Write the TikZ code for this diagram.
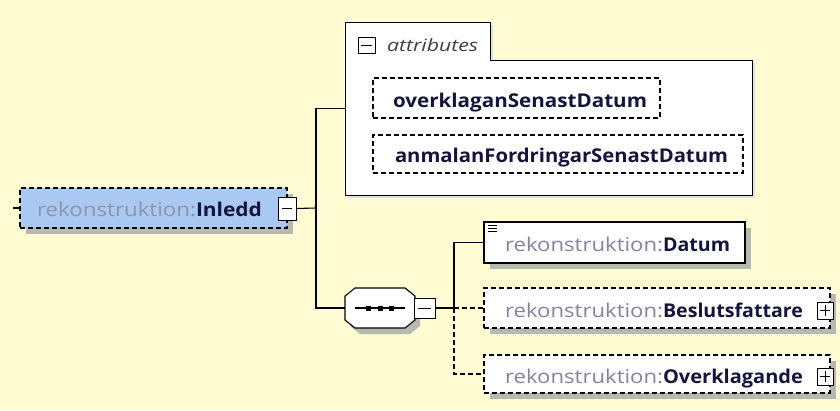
\documentclass[tikz,border=0pt]{standalone}
\usepackage{graphicx}
\usepackage{fontspec}
\setmainfont{Open Sans}
\definecolor{bg}{HTML}{FFFBD2}
\definecolor{shadowc}{HTML}{B8B8B0}
\definecolor{blueF}{HTML}{A9C8F2}
\definecolor{prefixc}{HTML}{84849C}
\definecolor{prefixi}{HTML}{8E96A8}
\definecolor{namec}{HTML}{14143C}
\newcommand\fitw[2]{\resizebox{#1pt}{\height}{#2}}
\begin{document}
\begin{tikzpicture}[x=1pt,y=-1pt,
  every node/.style={inner sep=0pt, outer sep=0pt},
  elembox/.style={draw=black, line width=1.1pt, fill=white, anchor=north west},
  optbox/.style={elembox, dashed, dash pattern=on 5pt off 3pt},
  shadowbox/.style={fill=shadowc, draw=none},
  conn/.style={draw=black, line width=1.1pt},
  optconn/.style={conn, dash pattern=on 5pt off 3pt},
  sign/.style={draw=black, line width=1pt, fill=white, anchor=north west},
  txt/.style={anchor=base west, font=\fontsize{19}{22}\selectfont},
  pre/.style={txt, color=prefixc},
  nm/.style={txt, color=namec, font=\fontsize{19}{22}\selectfont\bfseries},
]
\useasboundingbox[fill=bg] (0,0) rectangle (840,410);

% ---------- shadows ----------
\fill[shadowbox] (26,194) rectangle (293,234);
\fill[shadowbox] (490,228) rectangle (751,269);
\fill[shadowbox] (490,294) rectangle (836,334);
\fill[shadowbox] (490,361) rectangle (836,399);
\fill[shadowbox] (379,84) rectangle (666,124);
\fill[shadowbox] (379,141) rectangle (749,179);
\fill[shadowbox] (360,302) -- (410,302) -- (420,310) -- (420,326) -- (410,334) -- (360,334) -- (350,326) -- (350,310) -- cycle;
\fill[color=black!12] (348,25) -- (493,25) -- (493,63) -- (755,63) -- (755,198) -- (348,198) -- cycle;

% ---------- attributes group ----------
\path[draw=black, line width=1pt, fill=white] (345,22) -- (490,22) -- (490,60) -- (752,60) -- (752,195) -- (345,195) -- cycle;
\node[anchor=north west, minimum width=407pt, minimum height=173pt] (attr) at (345,22) {};
\node[sign, minimum width=17pt, minimum height=16pt] (attrmin) at (358,37) {};
\draw[line width=1pt] ([xshift=3pt]attrmin.west) -- ([xshift=-3pt]attrmin.east);
\node[anchor=base west, font=\fontsize{17}{20}\selectfont\itshape, color=black!75] (attrlbl) at (387,51) {\fitw{91}{attributes}};

\node[optbox, minimum width=287pt, minimum height=40pt] (ovk) at (373,78) {};
\node[nm] (ovklbl) at (393,107) {\fitw{254}{overklaganSenastDatum}};
\node[optbox, minimum width=370pt, minimum height=38pt] (anm) at (373,135) {};
\node[nm] (anmlbl) at (395,162) {\fitw{333}{anmalanFordringarSenastDatum}};

% ---------- Inledd element ----------
\node[optbox, fill=blueF, minimum width=267pt, minimum height=40pt] (inledd) at (20,188) {};
\node[pre, color=prefixi] (inpre) at (37,216) {\fitw{159}{rekonstruktion:}};
\node[nm] (innm) at (196,216) {\fitw{66}{Inledd}};
\node[sign, minimum width=18pt, minimum height=23pt] (inmin) at (278,197) {};
\draw[line width=1pt] ([xshift=4pt]inmin.west) -- ([xshift=-4pt]inmin.east);
\coordinate (instub) at (13,208);

% ---------- sequence ----------
\path[draw=black, line width=1.1pt, fill=white] (355,288) -- (405,288) -- (415,296) -- (415,320) -- (405,328) -- (355,328) -- (345,320) -- (345,296) -- cycle;
\node[minimum width=70pt, minimum height=40pt] (seq) at (380,308) {};
\draw[line width=1.1pt] (355,308) -- (405,308);
\fill[black] (366,305.5) rectangle (371,310.5);
\fill[black] (377.5,305.5) rectangle (382.5,310.5);
\fill[black] (389,305.5) rectangle (394,310.5);
\node[sign, minimum width=21pt, minimum height=20pt] (seqmin) at (414,298) {};
\draw[line width=1pt] ([xshift=4pt]seqmin.west) -- ([xshift=-4pt]seqmin.east);

% ---------- children ----------
\node[elembox, minimum width=261pt, minimum height=41pt] (datum) at (484,222) {};
\draw[line width=0.9pt] (488,225.5) -- (497,225.5) (488,228.5) -- (497,228.5) (488,231.5) -- (497,231.5);
\node[pre] (dapre) at (505,251) {\fitw{158}{rekonstruktion:}};
\node[nm] (danm) at (663,251) {\fitw{67}{Datum}};

\node[optbox, minimum width=346pt, minimum height=40pt] (besl) at (484,288) {};
\node[pre] (bepre) at (505,317) {\fitw{158}{rekonstruktion:}};
\node[nm] (benm) at (663,317) {\fitw{140}{Beslutsfattare}};
\node[sign, minimum width=16pt, minimum height=17pt] (beslplus) at (817,302) {};
\draw[line width=1pt] ([xshift=3pt]beslplus.west) -- ([xshift=-3pt]beslplus.east) ([yshift=-3pt]beslplus.north) -- ([yshift=3pt]beslplus.south);

\node[optbox, minimum width=346pt, minimum height=38pt] (ovkl) at (484,355) {};
\node[pre] (ovpre) at (505,383) {\fitw{158}{rekonstruktion:}};
\node[nm] (ovnm) at (663,383) {\fitw{140}{Overklagande}};
\node[sign, minimum width=16pt, minimum height=17pt] (ovklplus) at (817,368) {};
\draw[line width=1pt] ([xshift=3pt]ovklplus.west) -- ([xshift=-3pt]ovklplus.east) ([yshift=-3pt]ovklplus.north) -- ([yshift=3pt]ovklplus.south);

% ---------- connectors ----------
\coordinate (trunk) at (316,208);
\coordinate (junc) at (454,308);
\draw[conn] (instub) -- (inledd.west);
\draw[conn] (inmin.east) -- (trunk);
\draw[conn] (trunk) |- (attr.west);
\draw[conn] (trunk) |- (seq.west);
\draw[conn] (seqmin.east) -- (junc);
\draw[conn] (junc) |- (datum.west);
\draw[optconn] (junc) -- (besl.west);
\draw[optconn] (junc) |- (ovkl.west);
\end{tikzpicture}
\end{document}
